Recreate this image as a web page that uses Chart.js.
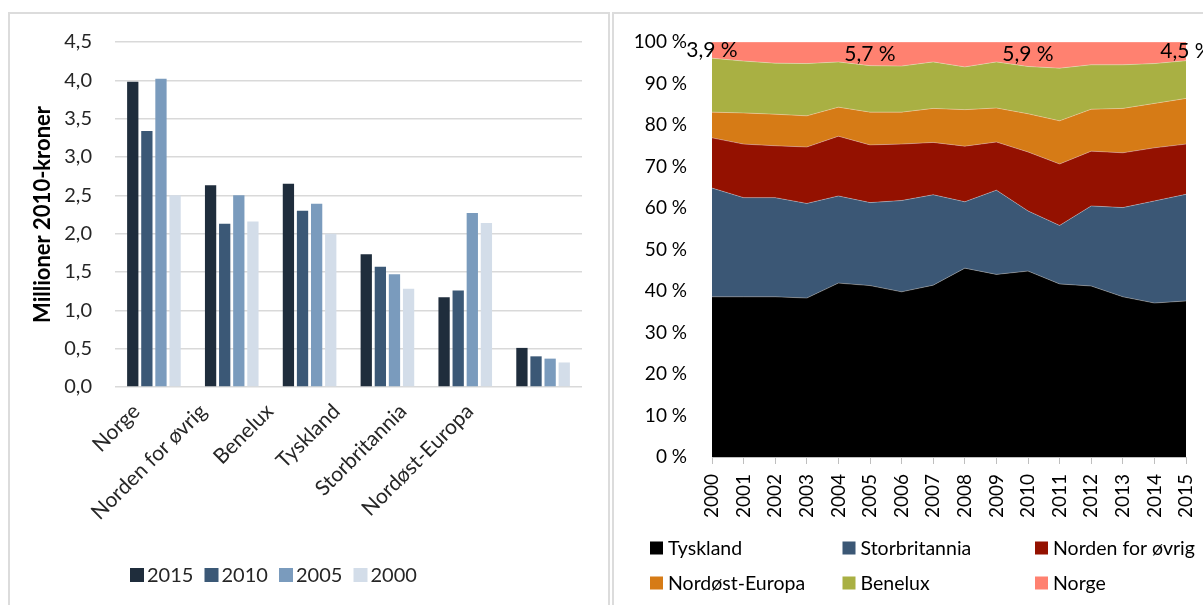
<!DOCTYPE html>
<html>
<head>
<meta charset="utf-8">
<script src="https://cdn.jsdelivr.net/npm/chart.js@4.4.1/dist/chart.umd.min.js"></script>
<style>
  body { margin: 0; width: 1203px; height: 605px; overflow: hidden; position: relative; background: #fff; }
  .panel { position: absolute; top: 12px; height: 600px; border: 2px solid #dcdcdc; border-bottom: none; background: #fff; }
  #leftPanel { left: 8px; width: 598px; }
  #rightPanel { left: 612px; width: 600px; }
  canvas { position: absolute; left: 0; top: 0; }
</style>
</head>
<body>
<div class="panel" id="leftPanel"><canvas id="barChart" width="598" height="591"></canvas></div>
<div class="panel" id="rightPanel"><canvas id="shareChart" width="589" height="591"></canvas></div>
<script>
// verdiskaping per region, millioner 2010-kroner
const regions = ['Norge', 'Norden for øvrig', 'Benelux', 'Tyskland', 'Storbritannia', 'Nordøst-Europa'];
const barYears = ['2015', '2010', '2005', '2000'];
const value2015 = [3.98, 2.63, 2.65, 1.73, 1.17, 0.51];
const value2010 = [3.34, 2.13, 2.30, 1.57, 1.26, 0.40];
const value2005 = [4.02, 2.50, 2.39, 1.47, 2.27, 0.37];
const value2000 = [2.50, 2.16, 2.00, 1.28, 2.14, 0.32];
const barColors = ['#1f2d3c', '#3b5876', '#7a9bbd', '#d3dde9'];

// andel per marked, prosent
const years = ['2000', '2001', '2002', '2003', '2004', '2005', '2006', '2007',
               '2008', '2009', '2010', '2011', '2012', '2013', '2014', '2015'];
const shareTyskland      = [38.6, 38.6, 38.6, 38.3, 41.9, 41.3, 39.8, 41.4, 45.5, 44.0, 44.8, 41.7, 41.2, 38.6, 37.1, 37.6];
const shareStorbritannia = [26.2, 23.9, 23.9, 22.8, 21.0, 20.0, 22.0, 21.8, 16.0, 20.3, 14.5, 14.1, 19.3, 21.5, 24.6, 25.7];
const shareNorden        = [12.1, 12.9, 12.5, 13.6, 14.4, 13.9, 13.6, 12.6, 13.4, 11.6, 14.2, 14.8, 13.2, 13.2, 12.8, 12.1];
const shareNordost       = [6.2, 7.5, 7.6, 7.5, 7.0, 7.9, 7.7, 8.2, 8.8, 8.2, 9.2, 10.4, 10.1, 10.7, 10.7, 11.0];
const shareBenelux       = [13.0, 12.5, 12.3, 12.6, 10.9, 11.2, 11.1, 11.2, 10.3, 11.1, 11.4, 12.7, 10.7, 10.5, 9.6, 9.1];
const shareNorge         = [3.9, 4.6, 5.1, 5.2, 4.8, 5.7, 5.8, 4.8, 6.0, 4.8, 5.9, 6.3, 5.5, 5.5, 5.2, 4.5];
const shareLabels = ['Tyskland', 'Storbritannia', 'Norden for øvrig', 'Nordøst-Europa', 'Benelux', 'Norge'];
const shareColors = ['#000000', '#3b5775', '#941100', '#d67b16', '#a9b043', '#ff8170'];
const labelledYears = ['2000', '2005', '2010', '2015'];

Chart.defaults.font.family = 'Lato';
Chart.defaults.animation = false;

const comma = (v, d) => v.toFixed(d).replace('.', ',');

// fixed axis sizes, no extra room for overhanging tick labels
const fixWidth = (w) => (s) => { s.width = w; s.paddingTop = 0; s.paddingBottom = 0; };
const fixHeight = (h) => (s) => { s.height = h; s.paddingLeft = 0; s.paddingRight = 0; };

// legend laid out in fixed columns
const gridLegend = {
  id: 'gridLegend',
  afterDraw(chart, args, opts) {
    const ctx = chart.ctx;
    ctx.save();
    ctx.font = opts.fontSize + 'px Lato';
    ctx.textBaseline = 'middle';
    chart.data.datasets.forEach((ds, i) => {
      const x = opts.x + (i % opts.columns) * opts.colWidth;
      const y = opts.y + Math.floor(i / opts.columns) * opts.rowHeight;
      ctx.fillStyle = ds.backgroundColor;
      ctx.fillRect(x, y - opts.box / 2, opts.box, opts.box);
      ctx.fillStyle = opts.color;
      ctx.fillText(ds.label, x + opts.box + opts.gap, y + 1);
    });
    ctx.restore();
  }
};

// value labels in the middle of the Norge band
const bandLabels = {
  id: 'bandLabels',
  afterDatasetsDraw(chart, args, opts) {
    const ctx = chart.ctx;
    const yScale = chart.scales.y;
    const idx = chart.data.datasets.length - 1;
    const meta = chart.getDatasetMeta(idx);
    const values = chart.data.datasets[idx].data;
    ctx.save();
    ctx.font = opts.fontSize + 'px Lato';
    ctx.fillStyle = '#000';
    ctx.textAlign = 'center';
    ctx.textBaseline = 'middle';
    chart.data.labels.forEach((year, i) => {
      if (!labelledYears.includes(year)) return;
      const pt = meta.data[i];
      const topValue = yScale.getValueForPixel(pt.y);
      const mid = yScale.getPixelForValue(topValue - values[i] / 2);
      ctx.fillText(comma(values[i], 1) + ' %', pt.x, mid);
    });
    ctx.restore();
  }
};

const barSeries = [value2015, value2010, value2005, value2000];

new Chart(document.getElementById('barChart'), {
  type: 'bar',
  data: {
    labels: regions,
    datasets: barYears.map((yr, i) => ({
      label: yr,
      data: barSeries[i],
      backgroundColor: barColors[i],
      barPercentage: 0.8,
      categoryPercentage: 0.725
    }))
  },
  options: {
    responsive: false,
    layout: { padding: { left: 0, right: 26, top: 28, bottom: 0 } },
    plugins: {
      legend: { display: false },
      tooltip: { enabled: false },
      gridLegend: { x: 120, y: 561, columns: 4, colWidth: 74.5, rowHeight: 0, box: 14, gap: 3, fontSize: 20, color: '#262626' }
    },
    scales: {
      x: {
        grid: { display: false, drawTicks: false },
        border: { display: false },
        ticks: { display: false },
        afterFit: fixHeight(0)
      },
      // region names sit on a slightly tighter pitch than the bar groups
      names: {
        type: 'linear',
        position: 'bottom',
        offset: false,
        min: -0.5,
        max: regions.length + 0.5,
        grid: { display: false, drawTicks: false },
        border: { display: false },
        afterBuildTicks: (s) => { s.ticks = regions.map((r, i) => ({ value: i })); },
        ticks: {
          color: '#262626',
          font: { size: 21 },
          minRotation: 45,
          maxRotation: 45,
          padding: 12,
          labelOffset: -12,
          autoSkip: false,
          callback: (v) => regions[v] ?? ''
        },
        afterFit: fixHeight(218)
      },
      y: {
        min: 0,
        max: 4.5,
        grid: { color: '#d9d9d9', lineWidth: 1.5, drawTicks: false },
        border: { display: false },
        ticks: { stepSize: 0.5, color: '#262626', font: { size: 20 }, padding: 23, callback: (v) => comma(v, 1) },
        title: { display: true, text: 'Millioner 2010-kroner', color: '#000', font: { size: 22, weight: 'bold' }, padding: { top: 20 } },
        afterFit: fixWidth(105)
      }
    }
  },
  plugins: [gridLegend]
});

const shareSeries = [shareTyskland, shareStorbritannia, shareNorden, shareNordost, shareBenelux, shareNorge];

new Chart(document.getElementById('shareChart'), {
  type: 'line',
  data: {
    labels: years,
    datasets: shareLabels.map((name, i) => ({
      label: name,
      data: shareSeries[i],
      backgroundColor: shareColors[i],
      borderColor: 'rgba(255,255,255,0.3)',
      borderWidth: 1,
      pointRadius: 0,
      tension: 0,
      fill: i === 0 ? 'origin' : '-1'
    }))
  },
  options: {
    responsive: false,
    layout: { padding: { left: 0, right: 17, top: 28, bottom: 0 } },
    plugins: {
      legend: { display: false },
      tooltip: { enabled: false },
      filler: { propagate: false },
      gridLegend: { x: 36, y: 534, columns: 3, colWidth: 192.5, rowHeight: 35, box: 13, gap: 5, fontSize: 19.5, color: '#000' },
      bandLabels: { fontSize: 21 }
    },
    scales: {
      x: {
        offset: false,
        grid: { drawOnChartArea: false, color: '#bfbfbf', tickLength: 7 },
        border: { color: '#bfbfbf' },
        ticks: { color: '#000', font: { size: 19 }, minRotation: 90, maxRotation: 90, padding: 10, autoSkip: false },
        afterFit: fixHeight(148)
      },
      y: {
        stacked: true,
        min: 0,
        max: 100,
        grid: { display: false, drawTicks: false },
        border: { display: false },
        ticks: { stepSize: 10, color: '#000', font: { size: 19 }, padding: 25, callback: (v) => v + ' %' },
        afterFit: fixWidth(98)
      }
    }
  },
  plugins: [gridLegend, bandLabels]
});
</script>
</body>
</html>
